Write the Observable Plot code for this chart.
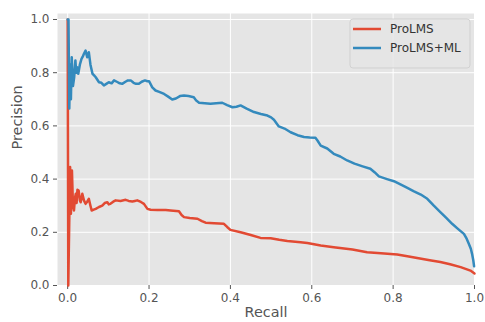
<!DOCTYPE html>
<html>
<head>
<meta charset="utf-8">
<script src="https://cdn.jsdelivr.net/npm/d3@7"></script>
<script src="https://cdn.jsdelivr.net/npm/@observablehq/plot@0.6"></script>
<style>
  html, body { margin: 0; padding: 0; background: #ffffff; }
  #chart { width: 485px; height: 322px; }
</style>
</head>
<body>
<div id="chart"></div>
<script>
// ---- Data ----
const seriesNames = ["ProLMS", "ProLMS+ML"];
const seriesColors = ["#E24A33", "#348ABD"];

const recallLMS = [0, 0.0015, 0.004, 0.006, 0.008, 0.0105, 0.013, 0.0155, 0.018, 0.020, 0.022, 0.024, 0.027, 0.030, 0.032, 0.036, 0.040, 0.044, 0.048, 0.052, 0.056, 0.059, 0.064, 0.069, 0.077, 0.085, 0.091, 0.0975, 0.101, 0.105, 0.112, 0.118, 0.130, 0.1425, 0.150, 0.159, 0.165, 0.171, 0.180, 0.1875, 0.196, 0.204, 0.220, 0.241, 0.253, 0.2735, 0.280, 0.286, 0.300, 0.319, 0.330, 0.339, 0.360, 0.384, 0.392, 0.400, 0.425, 0.450, 0.474, 0.499, 0.520, 0.540, 0.5725, 0.589, 0.622, 0.654, 0.700, 0.736, 0.770, 0.810, 0.835, 0.859, 0.890, 0.916, 0.940, 0.966, 0.990, 1.0];
const precisionLMS = [1.0, 0.0, 0.25, 0.445, 0.27, 0.432, 0.30, 0.282, 0.33, 0.345, 0.31, 0.36, 0.357, 0.32, 0.313, 0.345, 0.32, 0.307, 0.315, 0.326, 0.30, 0.282, 0.285, 0.288, 0.295, 0.30, 0.31, 0.313, 0.305, 0.307, 0.315, 0.32, 0.318, 0.322, 0.318, 0.316, 0.318, 0.32, 0.314, 0.307, 0.288, 0.2845, 0.284, 0.284, 0.282, 0.279, 0.265, 0.257, 0.254, 0.251, 0.242, 0.236, 0.234, 0.232, 0.22, 0.209, 0.2, 0.19, 0.179, 0.178, 0.172, 0.167, 0.163, 0.16, 0.15, 0.144, 0.135, 0.125, 0.121, 0.1165, 0.11, 0.103, 0.095, 0.088, 0.08, 0.069, 0.056, 0.045];

const recallML = [0, 0.002, 0.004, 0.006, 0.008, 0.010, 0.013, 0.016, 0.019, 0.021, 0.024, 0.026, 0.030, 0.034, 0.037, 0.040, 0.044, 0.048, 0.052, 0.056, 0.061, 0.065, 0.069, 0.077, 0.083, 0.089, 0.095, 0.101, 0.108, 0.114, 0.122, 0.128, 0.134, 0.142, 0.148, 0.155, 0.162, 0.168, 0.175, 0.182, 0.190, 0.196, 0.200, 0.208, 0.216, 0.225, 0.237, 0.247, 0.257, 0.266, 0.276, 0.286, 0.297, 0.310, 0.316, 0.323, 0.337, 0.351, 0.365, 0.380, 0.392, 0.405, 0.415, 0.425, 0.440, 0.458, 0.475, 0.491, 0.500, 0.507, 0.519, 0.533, 0.548, 0.565, 0.581, 0.595, 0.609, 0.614, 0.622, 0.638, 0.654, 0.670, 0.687, 0.705, 0.725, 0.744, 0.755, 0.765, 0.785, 0.802, 0.818, 0.835, 0.850, 0.868, 0.884, 0.900, 0.916, 0.930, 0.945, 0.960, 0.974, 0.981, 0.986, 0.991, 0.994, 0.997, 0.999];
const precisionML = [1.0, 1.0, 0.665, 0.83, 0.70, 0.858, 0.75, 0.783, 0.846, 0.80, 0.82, 0.796, 0.83, 0.852, 0.86, 0.871, 0.883, 0.858, 0.877, 0.83, 0.796, 0.79, 0.783, 0.764, 0.762, 0.752, 0.758, 0.764, 0.760, 0.771, 0.765, 0.760, 0.758, 0.766, 0.771, 0.771, 0.762, 0.758, 0.758, 0.766, 0.771, 0.768, 0.768, 0.745, 0.733, 0.728, 0.72, 0.71, 0.699, 0.703, 0.712, 0.714, 0.712, 0.708, 0.695, 0.687, 0.685, 0.683, 0.685, 0.687, 0.678, 0.67, 0.672, 0.677, 0.665, 0.652, 0.645, 0.639, 0.632, 0.623, 0.598, 0.590, 0.576, 0.565, 0.558, 0.556, 0.555, 0.545, 0.526, 0.515, 0.495, 0.485, 0.47, 0.458, 0.448, 0.439, 0.425, 0.41, 0.40, 0.392, 0.380, 0.367, 0.355, 0.342, 0.326, 0.300, 0.276, 0.255, 0.232, 0.212, 0.194, 0.175, 0.157, 0.138, 0.119, 0.095, 0.072];

const xTicks = [0.0, 0.2, 0.4, 0.6, 0.8, 1.0];
const yTicks = [0.0, 0.2, 0.4, 0.6, 0.8, 1.0];
const xLabel = "Recall";
const yLabel = "Precision";

// ---- Build table for the library ----
const rows = [];
recallLMS.forEach((r, i) => rows.push({series: seriesNames[0], recall: r, precision: precisionLMS[i]}));
recallML.forEach((r, i) => rows.push({series: seriesNames[1], recall: r, precision: precisionML[i]}));

const fontFamily = "'DejaVu Sans', sans-serif";
const tickColor = "#555555";

const chart = Plot.plot({
  width: 485,
  height: 322,
  marginLeft: 57,
  marginRight: 11,
  marginTop: 13,
  marginBottom: 37,
  style: {fontFamily, background: "#ffffff", overflow: "visible"},
  x: {domain: [-0.025, 1.0]},
  y: {domain: [0, 1.0225]},
  color: {domain: seriesNames, range: seriesColors},
  marks: [
    Plot.frame({fill: "#E5E5E5", stroke: null}),
    Plot.gridX(xTicks, {stroke: "#ffffff", strokeOpacity: 1, strokeWidth: 1}),
    Plot.gridY(yTicks, {stroke: "#ffffff", strokeOpacity: 1, strokeWidth: 1}),
    Plot.axisX(xTicks, {tickFormat: d => d.toFixed(1), tickSize: 4, tickPadding: 4, fontSize: 12, color: tickColor, label: null}),
    Plot.axisY(yTicks, {tickFormat: d => d.toFixed(1), tickSize: 4, tickPadding: 4, fontSize: 12, color: tickColor, label: null}),
    Plot.line(rows, {x: "recall", y: "precision", z: "series", stroke: "series", strokeWidth: 2.5, strokeLinejoin: "round"}),
    Plot.text([xLabel], {frameAnchor: "bottom", text: d => d, dy: 31, fontSize: 14.4, fill: tickColor}),
    Plot.text([yLabel], {frameAnchor: "left", text: d => d, dx: -40, rotate: -90, fontSize: 14.4, fill: tickColor})
  ]
});

// ---- Legend inside the plot area (upper right) ----
const svg = d3.select(chart);
const lg = svg.append("g").attr("transform", "translate(350,19)");
lg.append("rect")
  .attr("width", 120).attr("height", 49).attr("rx", 3)
  .attr("fill", "#E5E5E5").attr("fill-opacity", 0.8)
  .attr("stroke", "#cccccc").attr("stroke-opacity", 0.8);
seriesNames.forEach((name, i) => {
  const y = 10 + i * 19;
  lg.append("line").attr("x1", 3).attr("x2", 31).attr("y1", y).attr("y2", y)
    .attr("stroke", seriesColors[i]).attr("stroke-width", 2.5);
  lg.append("text").attr("x", 40).attr("y", y).attr("dy", "0.35em")
    .attr("text-anchor", "start")
    .attr("font-size", 12).attr("font-family", fontFamily).attr("fill", "#333333")
    .text(name);
});

document.getElementById("chart").appendChild(chart);
</script>
</body>
</html>
